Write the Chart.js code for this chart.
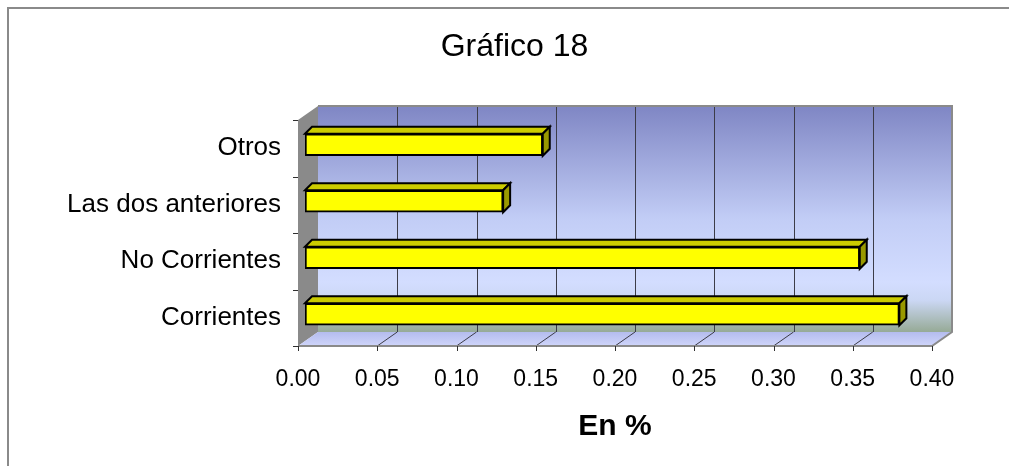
<!DOCTYPE html>
<html><head><meta charset="utf-8">
<script src="https://cdn.jsdelivr.net/npm/chart.js@4/dist/chart.umd.min.js"></script>
<style>html,body{margin:0;padding:0;background:#fff;overflow:hidden}#wrap{width:1009px;height:466px;position:relative}canvas{display:block}</style>
</head><body>
<div id="wrap"><canvas id="c" width="1009" height="466"></canvas></div>
<script>
// ---- data ----
const categories = ['Otros', 'Las dos anteriores', 'No Corrientes', 'Corrientes'];
const values = [0.15, 0.125, 0.35, 0.375];
const tickLabels = ['0.00', '0.05', '0.10', '0.15', '0.20', '0.25', '0.30', '0.35', '0.40'];
const titleText = 'Gráfico 18';
const axisTitle = 'En %';

// ---- style ----
const FONT = '"Liberation Sans", Arial, Helvetica, sans-serif';
const DEPTH = {dx: 20, dy: -14};
const BAR_SHIFT = {dx: 7, dy: -3.5};
const BAR_DEPTH = {dx: 7, dy: -7};

const frame3d = {
  id: 'frame3d',
  beforeDraw(chart) {
    const ctx = chart.ctx;
    ctx.save();
    ctx.fillStyle = '#fff';
    ctx.fillRect(0, 0, chart.width, chart.height);
    ctx.strokeStyle = '#8a8a8a';
    ctx.lineWidth = 2;
    ctx.beginPath();
    ctx.moveTo(8, chart.height);
    ctx.lineTo(8, 8);
    ctx.lineTo(chart.width, 8);
    ctx.stroke();
    ctx.restore();
  },
  beforeDatasetsDraw(chart) {
    const {ctx, chartArea: a, scales: {x, y}} = chart;
    const L = a.left, R = a.right, T = a.top, B = a.bottom;
    const dx = DEPTH.dx, dy = DEPTH.dy;
    ctx.save();
    // back wall
    const g = ctx.createLinearGradient(0, T + dy, 0, B + dy);
    g.addColorStop(0, '#7f86c4');
    g.addColorStop(0.5, '#c2cdf6');
    g.addColorStop(0.78, '#d3ddff');
    g.addColorStop(0.86, '#cbd7f4');
    g.addColorStop(1, '#96aa96');
    ctx.fillStyle = g;
    ctx.fillRect(L + dx, T + dy, R - L, B - T);
    // back wall grid lines
    ctx.strokeStyle = '#3c3c48';
    ctx.lineWidth = 1;
    x.ticks.forEach(t => {
      if (t.value <= x.min || t.value >= x.max) return;
      const px = Math.round(x.getPixelForValue(t.value) + dx) + 0.5;
      ctx.beginPath();
      ctx.moveTo(px, T + dy);
      ctx.lineTo(px, B + dy);
      ctx.stroke();
    });
    // left wall
    ctx.fillStyle = '#8a8a8a';
    ctx.beginPath();
    ctx.moveTo(L, T);
    ctx.lineTo(L + dx, T + dy);
    ctx.lineTo(L + dx, B + dy);
    ctx.lineTo(L, B);
    ctx.closePath();
    ctx.fill();
    // floor
    const fg = ctx.createLinearGradient(0, B + dy, 0, B);
    fg.addColorStop(0, '#b4bcee');
    fg.addColorStop(1, '#cfd5fa');
    ctx.fillStyle = fg;
    ctx.beginPath();
    ctx.moveTo(L, B);
    ctx.lineTo(L + dx, B + dy);
    ctx.lineTo(R + dx, B + dy);
    ctx.lineTo(R, B);
    ctx.closePath();
    ctx.fill();
    // floor diagonals
    ctx.strokeStyle = '#3c3c48';
    ctx.lineWidth = 1;
    x.ticks.forEach(t => {
      if (t.value <= x.min || t.value >= x.max) return;
      const px = x.getPixelForValue(t.value);
      ctx.beginPath();
      ctx.moveTo(px, B);
      ctx.lineTo(px + dx, B + dy);
      ctx.stroke();
    });
    // outlines
    ctx.strokeStyle = '#8a8a8a';
    ctx.lineWidth = 2;
    ctx.beginPath();
    ctx.moveTo(L + dx, T + dy);
    ctx.lineTo(R + dx, T + dy);
    ctx.lineTo(R + dx, B + dy);
    ctx.lineTo(R, B);
    ctx.lineTo(L, B);
    ctx.stroke();
    // tick marks
    ctx.strokeStyle = '#303030';
    ctx.lineWidth = 1;
    x.ticks.forEach(t => {
      const px = Math.round(x.getPixelForValue(t.value)) + 0.5;
      ctx.beginPath();
      ctx.moveTo(px, B);
      ctx.lineTo(px, B + 5);
      ctx.stroke();
    });
    const half = (B - T) / categories.length / 2;
    for (let i = 0; i <= categories.length; i++) {
      const py = Math.round(i < categories.length ? y.getPixelForValue(i) - half : y.getPixelForValue(i - 1) + half) + 0.5;
      ctx.beginPath();
      ctx.moveTo(L - 5, py);
      ctx.lineTo(L, py);
      ctx.stroke();
    }
    ctx.restore();
    // bars sit at mid depth
    ctx.save();
    ctx.translate(BAR_SHIFT.dx, BAR_SHIFT.dy);
  },
  afterDatasetsDraw(chart) {
    const ctx = chart.ctx;
    const meta = chart.getDatasetMeta(0);
    const bx = BAR_DEPTH.dx, by = BAR_DEPTH.dy;
    ctx.lineWidth = 2;
    ctx.strokeStyle = '#000';
    ctx.lineJoin = 'miter';
    meta.data.forEach(el => {
      const {x: xe, y: yc, base, height: h} = el.getProps(['x', 'y', 'base', 'height'], true);
      const top = yc - h / 2, bot = yc + h / 2;
      // top face
      ctx.fillStyle = '#cccc00';
      ctx.beginPath();
      ctx.moveTo(base, top);
      ctx.lineTo(base + bx, top + by);
      ctx.lineTo(xe + bx, top + by);
      ctx.lineTo(xe, top);
      ctx.closePath();
      ctx.fill();
      ctx.stroke();
      // side face
      ctx.fillStyle = '#999900';
      ctx.beginPath();
      ctx.moveTo(xe, top);
      ctx.lineTo(xe + bx, top + by);
      ctx.lineTo(xe + bx, bot + by);
      ctx.lineTo(xe, bot);
      ctx.closePath();
      ctx.fill();
      ctx.stroke();
    });
    ctx.restore();
  }
};

Chart.defaults.color = '#000';
Chart.defaults.font.family = FONT;

new Chart(document.getElementById('c'), {
  type: 'bar',
  data: {
    labels: categories,
    datasets: [{
      data: values,
      backgroundColor: '#ffff00',
      borderColor: '#000',
      borderWidth: 2,
      borderSkipped: false,
      barThickness: 22
    }]
  },
  options: {
    indexAxis: 'y',
    responsive: false,
    animation: false,
    devicePixelRatio: 1,
    layout: {padding: {left: 20, right: 0, top: 0, bottom: 0}},
    plugins: {
      legend: {display: false},
      tooltip: {enabled: false},
      title: {
        display: true,
        text: titleText,
        color: '#000',
        font: {size: 32, weight: 'normal', family: FONT},
        padding: {top: 28, bottom: 53.6}
      }
    },
    scales: {
      x: {
        type: 'linear',
        min: 0,
        max: 0.4,
        grid: {display: false},
        border: {display: false},
        ticks: {
          stepSize: 0.05,
          padding: 12,
          color: '#000',
          font: {size: 23, family: FONT},
          callback: (v, i) => tickLabels[i]
        },
        title: {
          display: true,
          text: axisTitle,
          color: '#000',
          font: {size: 30, weight: 'bold', family: FONT},
          padding: {top: 0, bottom: 21}
        },
        afterFit: s => { s.height = 120; }
      },
      y: {
        grid: {display: false},
        border: {display: false},
        ticks: {
          padding: 9,
          color: '#000',
          font: {size: 26, family: FONT}
        },
        afterFit: s => { s.width = 278; }
      },
      yRight: {
        type: 'linear',
        position: 'right',
        display: true,
        grid: {display: false},
        border: {display: false},
        ticks: {display: false},
        afterFit: s => { s.width = 77; }
      }
    }
  },
  plugins: [frame3d]
});
</script>
</body></html>
